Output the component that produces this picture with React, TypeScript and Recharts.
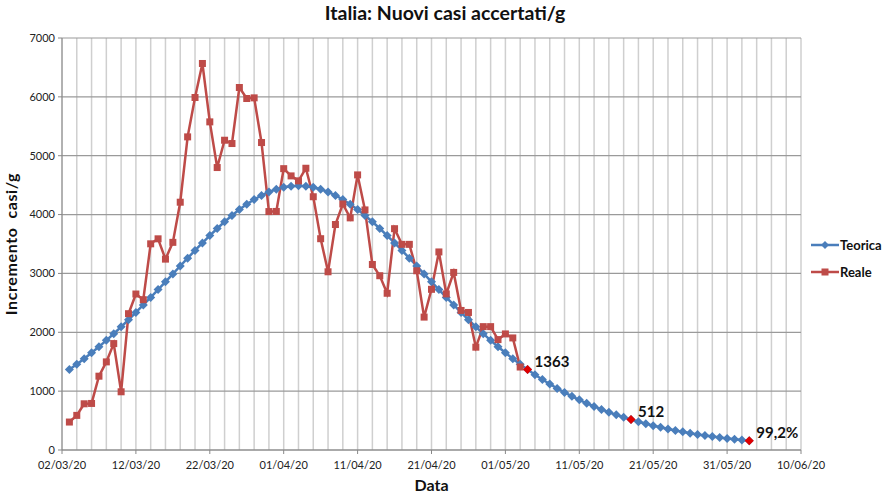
import {
  LineChart,
  Line,
  XAxis,
  YAxis,
  CartesianGrid,
  LabelList,
} from "recharts";

// day index 0 = 02/03/20
const tickDays = [0, 10, 20, 30, 40, 50, 60, 70, 80, 90, 100];
const tickLabels = [
  "02/03/20",
  "12/03/20",
  "22/03/20",
  "01/04/20",
  "11/04/20",
  "21/04/20",
  "01/05/20",
  "11/05/20",
  "21/05/20",
  "31/05/20",
  "10/06/20",
];
const yTicks = [0, 1000, 2000, 3000, 4000, 5000, 6000, 7000];

// Teorica: from day 1 to day 93
const teorica = [
  1366, 1456, 1551, 1651, 1755, 1863, 1976, 2093, 2213, 2337, 2464, 2593, 2725,
  2858, 2992, 3126, 3259, 3390, 3519, 3643, 3763, 3878, 3985, 4085, 4175, 4256,
  4325, 4384, 4430, 4463, 4483, 4490, 4483, 4463, 4430, 4384, 4325, 4256, 4175,
  4085, 3985, 3878, 3763, 3643, 3519, 3390, 3259, 3126, 2992, 2858, 2725, 2593,
  2464, 2337, 2213, 2093, 1976, 1863, 1755, 1651, 1551, 1456, 1366, 1280, 1198,
  1121, 1047, 978, 913, 852, 794, 740, 689, 642, 597, 556, 517, 480, 446, 414,
  385, 357, 332, 308, 286, 265, 246, 228, 211, 196, 182, 168, 156,
];

// Reale: from day 1 to day 62
const reale = [
  475, 588, 785, 791, 1254, 1497, 1808, 989, 2316, 2650, 2554, 3503, 3588, 3243,
  3528, 4210, 5320, 5989, 6567, 5575, 4799, 5263, 5207, 6159, 5972, 5983, 5224,
  4051, 4053, 4780, 4657, 4573, 4787, 4303, 3590, 3028, 3831, 4180, 3944, 4674,
  4079, 3152, 2961, 2663, 3760, 3494, 3494, 3045, 2258, 2730, 3365, 2652, 3017,
  2371, 2337, 1747, 2096, 2096, 1876, 1972, 1904, 1410,
];

const markDays = [63, 77, 93];
const markLabels = ["1363", "512", "99,2%"];

const BLUE = "#4a7ebb";
const RED = "#be4b48";
const FONT = "Lato, 'Open Sans', sans-serif";

const data = teorica.map((v, i) => {
  const d = i + 1;
  const m = markDays.indexOf(d);
  return {
    d,
    teorica: v,
    reale: i < reale.length ? reale[i] : undefined,
    mark: m >= 0 ? v : undefined,
    markLabel: m >= 0 ? markLabels[m] : undefined,
  };
});

const gridDays: number[] = [];
for (let i = 0; i <= 100; i += 2) gridDays.push(i);

const diamondPath = (cx: number, cy: number, r: number) =>
  `M${cx},${cy - r}L${cx + r},${cy}L${cx},${cy + r}L${cx - r},${cy}Z`;

const BlueDot = (p: any) => {
  if (p.cx == null || p.cy == null) return <g key={`b${p.index}`} />;
  return <path key={`b${p.index}`} d={diamondPath(p.cx, p.cy, 4.5)} fill={BLUE} />;
};

const RedDot = (p: any) => {
  if (p.cx == null || p.cy == null) return <g key={`r${p.index}`} />;
  return (
    <rect key={`r${p.index}`} x={p.cx - 3.5} y={p.cy - 3.5} width={7} height={7} fill={RED} />
  );
};

const MarkDot = (p: any) => {
  if (p.cx == null || p.cy == null || p.value == null)
    return <g key={`m${p.index}`} />;
  return <path key={`m${p.index}`} d={diamondPath(p.cx, p.cy, 4.5)} fill="#e00000" />;
};

const MarkLabel = (p: any) => {
  if (!p.value) return null;
  return (
    <text
      x={p.x + 7}
      y={p.y - 3}
      fontFamily={FONT}
      fontWeight={700}
      fontSize={15}
      fill="#111"
    >
      {p.value}
    </text>
  );
};

const YTitle = (p: any) => {
  const x = p.viewBox.x + 17;
  const y = p.viewBox.y + p.viewBox.height / 2;
  return (
    <text
      x={x}
      y={y}
      transform={`rotate(-90, ${x}, ${y})`}
      textAnchor="middle"
      fontFamily={FONT}
      fontWeight={700}
      fontSize={16}
      letterSpacing={0.6}
      fill="#111"
      style={{ whiteSpace: "pre" }}
    >
      {"Incremento  casi/g"}
    </text>
  );
};

const XTitle = (p: any) => (
  <text
    x={p.viewBox.x + p.viewBox.width / 2}
    y={p.viewBox.y + 41}
    textAnchor="middle"
    fontFamily={FONT}
    fontWeight={700}
    fontSize={16}
    fill="#111"
  >
    Data
  </text>
);

function LegendBox() {
  const items = [
    { name: "Teorica", color: BLUE, shape: "diamond" },
    { name: "Reale", color: RED, shape: "square" },
  ];
  return (
    <div style={{ position: "absolute", left: 810, top: 231 }}>
      {items.map((it) => (
        <div
          key={it.name}
          style={{ display: "flex", alignItems: "center", height: 27 }}
        >
          <svg width={30} height={12}>
            <line x1={1} y1={6} x2={29} y2={6} stroke={it.color} strokeWidth={2.5} />
            {it.shape === "diamond" ? (
              <path d={diamondPath(15, 6, 4)} fill={it.color} />
            ) : (
              <rect x={11.5} y={2.5} width={7} height={7} fill={it.color} />
            )}
          </svg>
          <span
            style={{
              fontFamily: FONT,
              fontWeight: 700,
              fontSize: 13,
              color: "#111",
            }}
          >
            {it.name}
          </span>
        </div>
      ))}
    </div>
  );
}

export default function App() {
  return (
    <div
      style={{
        position: "absolute",
        left: 0,
        top: 0,
        width: 890,
        height: 500,
        background: "#fff",
      }}
    >
      <div
        style={{
          position: "absolute",
          left: 0,
          top: 1,
          width: 890,
          textAlign: "center",
          fontFamily: FONT,
          fontWeight: 700,
          fontSize: 19.5,
          color: "#111",
        }}
      >
        Italia: Nuovi casi accertati/g
      </div>
      <LineChart
        width={890}
        height={500}
        data={data}
        margin={{ top: 38, right: 89, left: 0, bottom: 0 }}
      >
        <CartesianGrid
          horizontal={false}
          stroke="#cfcfcf"
          strokeWidth={1.5}
          verticalValues={gridDays}
        />
        <CartesianGrid vertical={false} stroke="#9a9a9a" strokeWidth={1.2} />
        <XAxis
          dataKey="d"
          type="number"
          domain={[0, 100]}
          ticks={tickDays}
          interval={0}
          tickFormatter={(v: number) => tickLabels[tickDays.indexOf(v)] ?? ""}
          tick={{ fill: "#222", fontSize: 11, fontFamily: FONT }}
          tickLine={{ stroke: "#888" }}
          tickSize={4}
          tickMargin={7}
          axisLine={{ stroke: "#888" }}
          height={50}
          label={<XTitle />}
        />
        <YAxis
          domain={[0, 7000]}
          ticks={yTicks}
          interval={0}
          tick={{ fill: "#222", fontSize: 11, fontFamily: FONT }}
          tickLine={{ stroke: "#888" }}
          tickSize={4}
          tickMargin={3}
          axisLine={{ stroke: "#888" }}
          width={62}
          label={<YTitle />}
        />
        <Line
          dataKey="teorica"
          stroke={BLUE}
          strokeWidth={2.5}
          dot={BlueDot}
          activeDot={false}
          isAnimationActive={false}
        />
        <Line
          dataKey="reale"
          stroke={RED}
          strokeWidth={2.5}
          dot={RedDot}
          activeDot={false}
          isAnimationActive={false}
        />
        <Line
          dataKey="mark"
          stroke="none"
          dot={MarkDot}
          activeDot={false}
          legendType="none"
          isAnimationActive={false}
        >
          <LabelList dataKey="markLabel" content={MarkLabel} />
        </Line>
      </LineChart>
      <LegendBox />
    </div>
  );
}
